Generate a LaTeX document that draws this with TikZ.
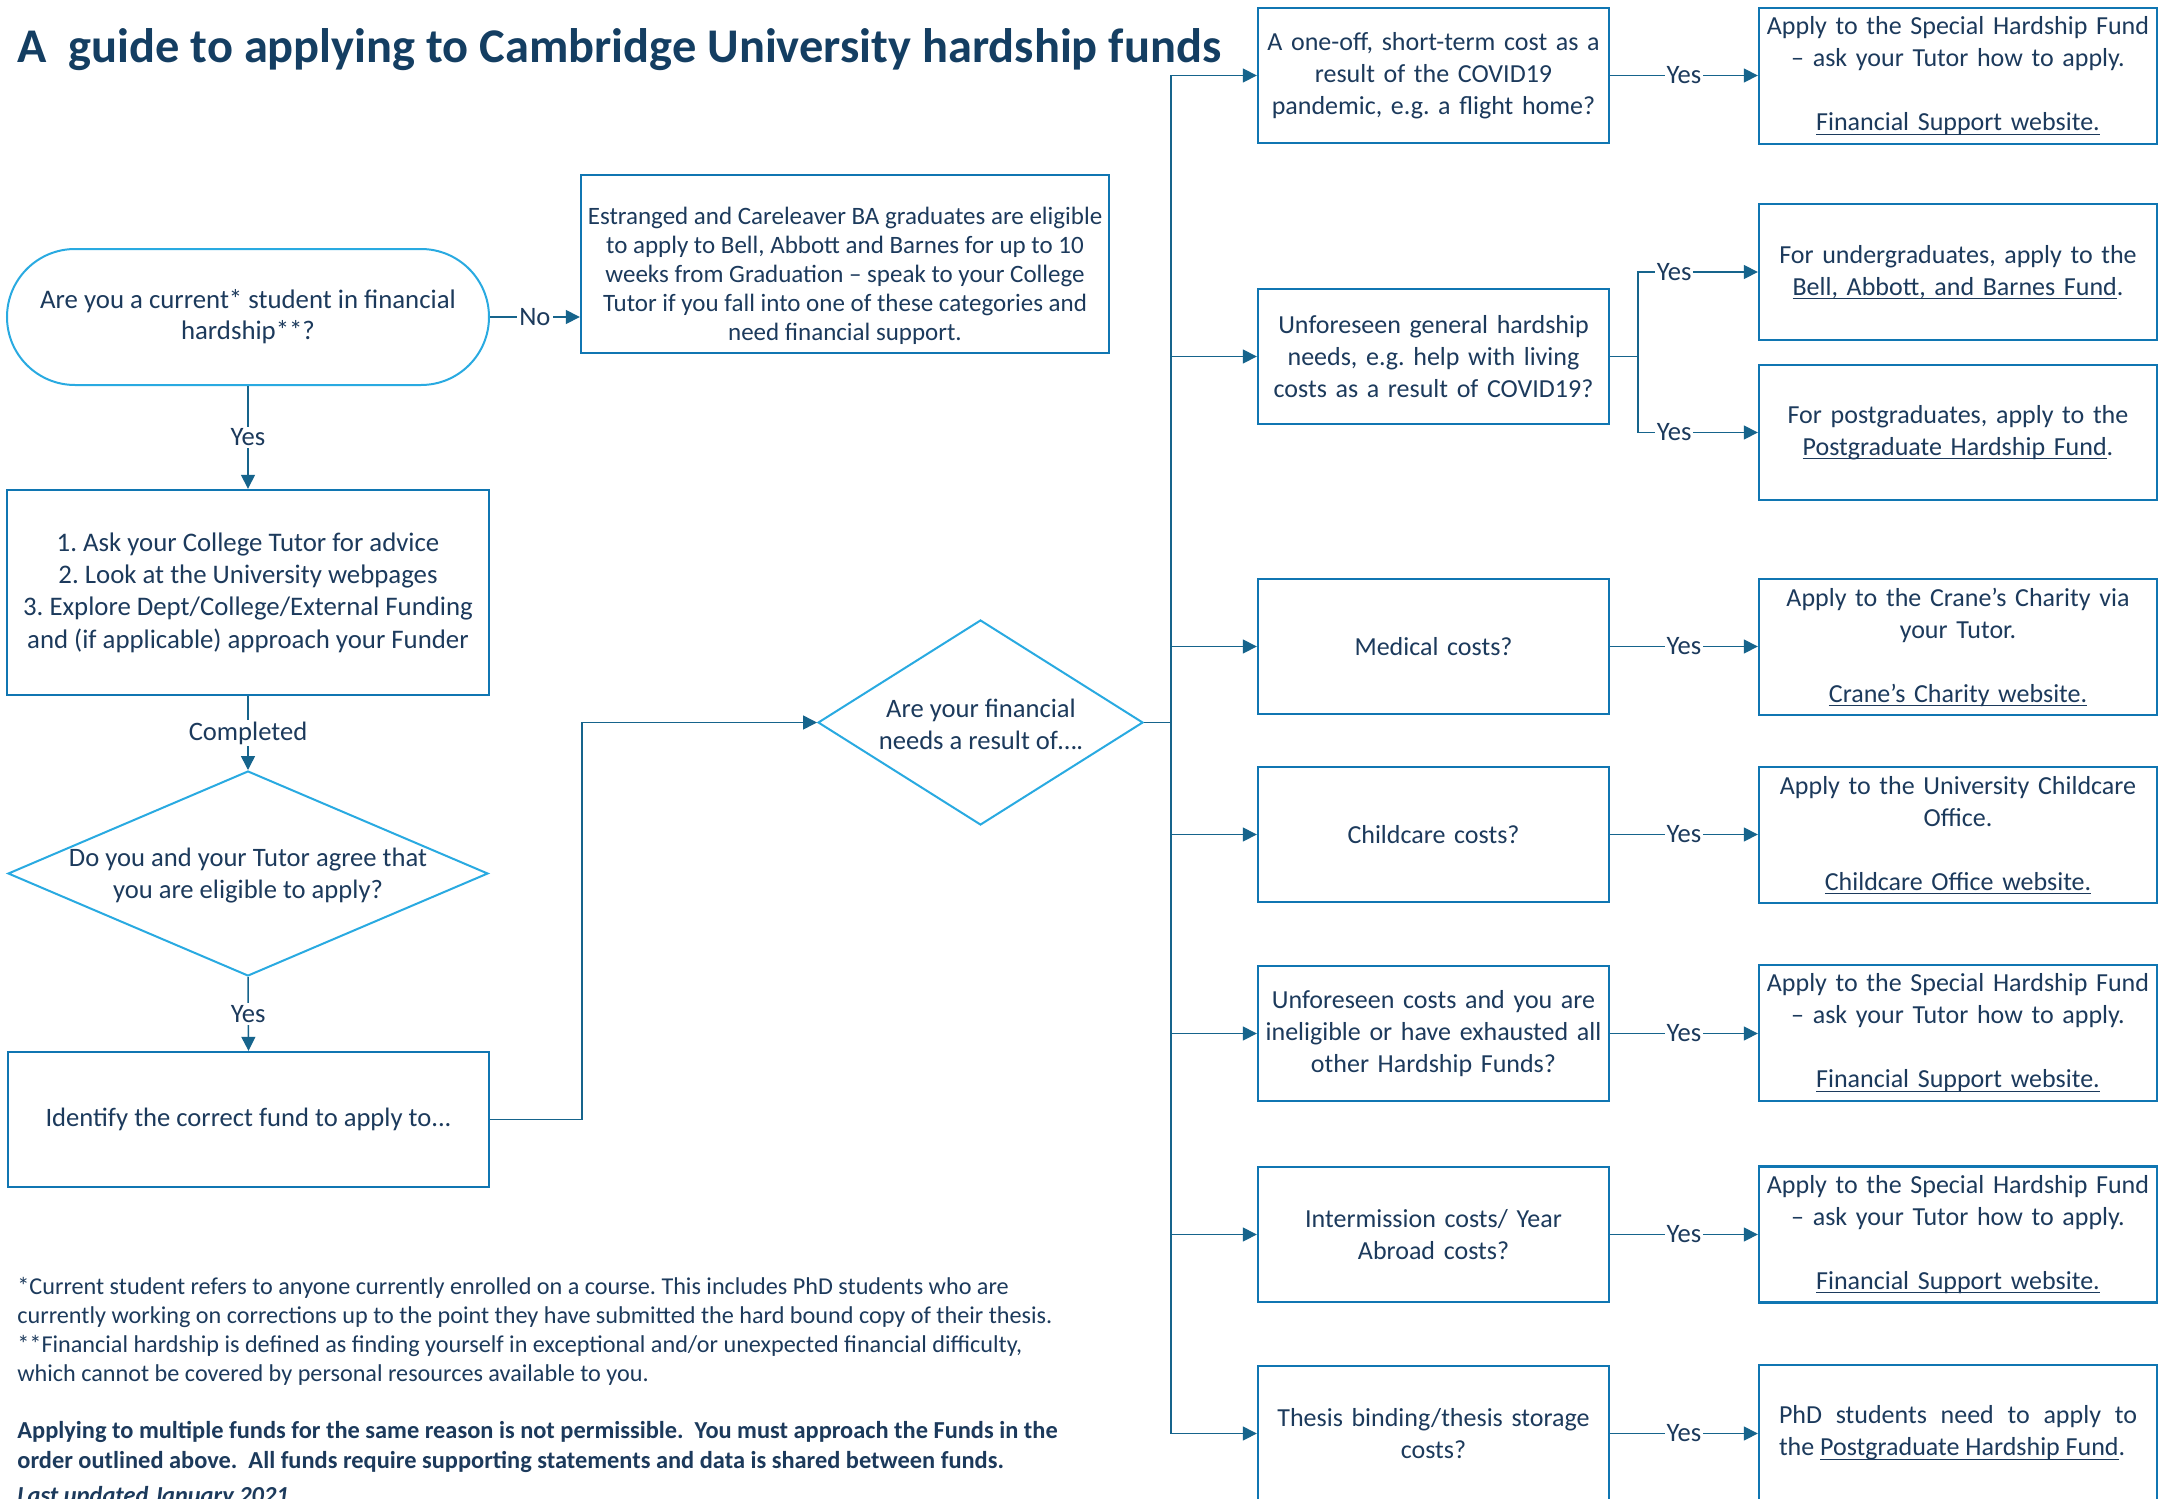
\documentclass[tikz,border=0pt]{standalone}
\usepackage{fontspec}
\setmainfont{Carlito}
\usetikzlibrary{arrows.meta,shapes.geometric,calc}
\definecolor{txt}{RGB}{28,58,92}
\definecolor{ttl}{RGB}{20,62,98}
\definecolor{boxc}{RGB}{16,118,178}
\definecolor{cyanc}{RGB}{41,170,225}
\definecolor{linec}{RGB}{22,100,140}
\newcommand\ulink[1]{\leavevmode\setbox0\hbox{#1}\rlap{\rule[-2pt]{\wd0}{0.6pt}}\box0}
\begin{document}
\frenchspacing
\begin{tikzpicture}[x=0.5pt,y=-0.5pt,
  every node/.style={text=txt},
  fs/.style={font=\fontsize{13}{16}\selectfont},
  fsl/.style={font=\fontsize{13.3}{16}\selectfont},
  fsm/.style={font=\fontsize{12.1}{14.5}\selectfont},
  rbox/.style={draw=boxc, line width=1.2pt, inner sep=0pt, align=center, fs},
  qbox/.style={rbox, minimum width=175.5pt, minimum height=67.5pt, text width=172pt},
  abox/.style={rbox, minimum width=199pt, minimum height=68pt, text width=197pt},
  conn/.style={draw=linec, line width=0.75pt, -{Triangle[length=7pt,width=7pt]}},
  plain/.style={draw=linec, line width=0.75pt},
  lab/.style={fill=white, inner sep=1pt, fsl},
  dia/.style={diamond, draw=cyanc, line width=1pt, inner sep=0pt},
]
\fill[white] (0,0) rectangle (2163,1499);
\useasboundingbox (0,0) rectangle (2163,1499);

% title
\node[anchor=base west, inner sep=0pt, text=ttl, font=\fontsize{24.2}{30}\selectfont\bfseries] (title) at (17,62) {A\ \ guide to applying to Cambridge University hardship funds};

% left column
\node[draw=cyanc, line width=1pt, rounded corners=34pt, minimum width=241pt, minimum height=68pt, inner sep=0pt, align=center, font=\fontsize{13.4}{15.5}\selectfont] (start) at (248,317) {Are you a current* student in financial\\hardship**?};

\node[draw=boxc, line width=1.2pt, minimum width=264pt, minimum height=89pt, inner sep=0pt] (est) at (845,264) {};
\node[align=center, font=\fontsize{12.5}{14.5}\selectfont, inner sep=0pt] (estt) at (845,276) {Estranged and Careleaver BA graduates are eligible\\to apply to Bell, Abbott and Barnes for up to 10\\weeks from Graduation – speak to your College\\Tutor if you fall into one of these categories and\\need financial support.};

\node[rbox, minimum width=241pt, minimum height=102.5pt, font=\fontsize{13.4}{16.2}\selectfont] (ask) at (248,592.5) {1. Ask your College Tutor for advice\\2. Look at the University webpages\\3. Explore Dept/College/External Funding\\and (if applicable) approach your Funder};

\node[dia, minimum width=240pt, minimum height=102.5pt] (elig) at (248,873.5) {};
\node[align=center, fsl, inner sep=0pt] (eligt) at (248,876) {Do you and your Tutor agree that\\you are eligible to apply?};

\node[rbox, minimum width=240.5pt, minimum height=67.5pt, fsl] (ident) at (248.5,1119.5) {Identify the correct fund to apply to...};

\node[dia, minimum width=162.5pt, minimum height=102.5pt] (needs) at (980.5,722.5) {};
\node[align=center, fsl, inner sep=0pt] (needst) at (981,724) {Are your financial\\needs a result of….};

% question column
\node[qbox] (q1) at (1433.5,75.5) {A one-off, short-term cost as a\\result of the COVID19\\pandemic, e.g. a flight home?};
\node[qbox] (q2) at (1433.5,356.5) {Unforeseen general hardship\\needs, e.g. help with living\\costs as a result of COVID19?};
\node[qbox] (q3) at (1433.5,646.5) {Medical costs?};
\node[qbox] (q4) at (1433.5,834.5) {Childcare costs?};
\node[qbox] (q5) at (1433.5,1033.5) {Unforeseen costs and you are\\ineligible or have exhausted all\\other Hardship Funds?};
\node[qbox] (q6) at (1433.5,1234.5) {Intermission costs/ Year\\Abroad costs?};
\node[qbox] (q7) at (1433.5,1433.5) {Thesis binding/thesis storage\\costs?};

% answer column
\node[abox] (a1) at (1958,76) {Apply to the Special Hardship Fund\\– ask your Tutor how to apply.\\[16pt]\ulink{Financial Support website.}};
\node[abox] (a2a) at (1958,272) {For undergraduates, apply to the\\\ulink{Bell, Abbott, and Barnes Fund}.};
\node[abox, minimum height=67.5pt] (a2b) at (1958,432.5) {For postgraduates, apply to the\\\ulink{Postgraduate Hardship Fund}.};
\node[abox] (a3) at (1958,647) {Apply to the Crane’s Charity via\\your Tutor.\\[16pt]\ulink{Crane’s Charity website.}};
\node[abox] (a4) at (1958,835) {Apply to the University Childcare\\Office.\\[16pt]\ulink{Childcare Office website.}};
\node[abox] (a5) at (1958,1033) {Apply to the Special Hardship Fund\\– ask your Tutor how to apply.\\[16pt]\ulink{Financial Support website.}};
\node[abox] (a6) at (1958,1234.5) {Apply to the Special Hardship Fund\\– ask your Tutor how to apply.\\[16pt]\ulink{Financial Support website.}};
\node[abox, text width=179pt, align=justify] (a7) at (1958,1433) {PhD students need to apply to\linebreak the \ulink{Postgraduate Hardship Fund}.};

% connectors
\draw[conn] (start.east) -- node[lab]{No} (start.east -| est.west);
\draw[conn] (start.south) -- node[lab]{Yes} (ask.north);
\draw[conn] (ask.south) -- node[lab]{Completed} (elig.north);
\draw[conn] (elig.south) -- node[lab]{Yes} (ident.north);
\draw[conn] (ident.east) -- ++(92,0) |- (needs.west);

\coordinate (tr) at (1171,722.5);
\draw[plain] (needs.east) -- (tr);
\foreach \q in {q1,q2,q3,q4,q5,q6,q7} {\draw[conn] (tr) |- (\q.west);}

\draw[conn] (q1.east) -- node[lab]{Yes} (q1.east -| a1.west);
\draw[plain] (q2.east) -- ++(28,0) coordinate (br);
\draw[conn] (br) |- node[lab, pos=0.65]{Yes} (a2a.west);
\draw[conn] (br) |- node[lab, pos=0.65]{Yes} (a2b.west);
\draw[conn] (q3.east) -- node[lab]{Yes} (q3.east -| a3.west);
\draw[conn] (q4.east) -- node[lab]{Yes} (q4.east -| a4.west);
\draw[conn] (q5.east) -- node[lab]{Yes} (q5.east -| a5.west);
\draw[conn] (q6.east) -- node[lab]{Yes} (q6.east -| a6.west);
\draw[conn] (q7.east) -- node[lab]{Yes} (q7.east -| a7.west);

% footnotes
\node[anchor=base west, inner sep=0pt, fsm] (fn1) at (17,1294) {*Current student refers to anyone currently enrolled on a course. This includes PhD students who are};
\node[anchor=base west, inner sep=0pt, fsm] (fn2) at (17,1323) {currently working on corrections up to the point they have submitted the hard bound copy of their thesis.};
\node[anchor=base west, inner sep=0pt, fsm] (fn3) at (17,1352) {**Financial hardship is defined as finding yourself in exceptional and/or unexpected financial difficulty,};
\node[anchor=base west, inner sep=0pt, fsm] (fn4) at (17,1381) {which cannot be covered by personal resources available to you.};
\node[anchor=base west, inner sep=0pt, font=\fontsize{12.2}{14.5}\selectfont\bfseries] (b1) at (17,1438) {Applying to multiple funds for the same reason is not permissible.\ \ You must approach the Funds in the};
\node[anchor=base west, inner sep=0pt, font=\fontsize{12.2}{14.5}\selectfont\bfseries] (b2) at (17,1468) {order outlined above.\ \ All funds require supporting statements and data is shared between funds.};
\node[anchor=base west, inner sep=0pt, font=\fontsize{12.2}{14.5}\selectfont\bfseries\itshape] (b3) at (17,1503) {Last updated January 2021};
\end{tikzpicture}
\end{document}
